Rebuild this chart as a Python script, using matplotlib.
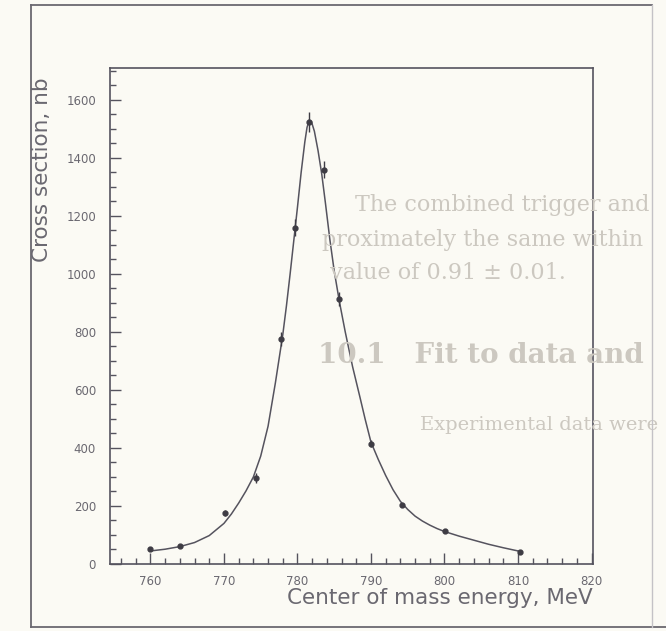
import numpy as np
import matplotlib
matplotlib.use('Agg')
import matplotlib.pyplot as plt
from matplotlib.lines import Line2D
from matplotlib.ticker import MultipleLocator

# measured points (MeV, nb)
energy = [760.0, 764.0, 770.2, 774.3, 777.8, 779.7, 781.6, 783.6, 785.7, 790.0, 794.2, 800.1, 810.3]
xsec = [52, 62, 176, 297, 776, 1160, 1525, 1360, 914, 414, 203, 114, 41]
xsec_err = [5, 5, 10, 18, 25, 30, 35, 30, 25, 12, 8, 6, 6]

# fitted curve
fit_e = [760, 762, 764, 766, 768, 770, 771, 772, 773, 774, 775, 776, 777, 778, 778.5,
         779, 779.5, 780, 780.5, 781, 781.3, 781.6, 781.9, 782.3, 782.8, 783.3, 783.8,
         784.4, 785, 785.7, 786.5, 787.5, 788.5, 789.2, 790, 791, 792, 793, 794, 795,
         796, 797, 798, 799, 800, 802, 804, 806, 808, 810]
fit_s = [45, 51, 60, 74, 98, 140, 172, 210, 252, 300, 372, 475, 625, 790, 890,
         1000, 1115, 1230, 1350, 1455, 1505, 1530, 1525, 1492, 1425, 1345, 1245,
         1120, 1010, 905, 800, 680, 575, 500, 420, 360, 305, 256, 216, 188,
         165, 148, 134, 122, 112, 96, 82, 68, 56, 45]

bg = '#fbfaf4'
ink = '#55535e'
ghost = '#ccc8c0'

fig = plt.figure(figsize=(6.66, 6.31), dpi=100, facecolor=bg)

# text showing through from the other side of the page
fig.text(355 / 666, 1 - 205 / 631, 'The combined trigger and', family='DejaVu Serif',
         fontsize=16, color=ghost, va='center', zorder=0)
fig.text(322 / 666, 1 - 240 / 631, 'proximately the same within', family='DejaVu Serif',
         fontsize=16, color=ghost, va='center', zorder=0)
fig.text(330 / 666, 1 - 273 / 631, 'value of 0.91 \u00b1 0.01.', family='DejaVu Serif',
         fontsize=16, color=ghost, va='center', zorder=0)
fig.text(318 / 666, 1 - 356 / 631, '10.1   Fit to data and', family='DejaVu Serif',
         fontsize=20, weight='bold', color=ghost, va='center', zorder=0)
fig.text(420 / 666, 1 - 425 / 631, 'Experimental data were', family='DejaVu Serif',
         fontsize=14, color=ghost, va='center', zorder=0)

# outer frame of the figure
fx0, fx1 = 31 / 666, 652 / 666
fy0, fy1 = 1 - 627 / 631, 1 - 5 / 631
for xs, ys in [([fx0, fx0], [fy0, fy1]), ([fx0, 1.0], [fy0, fy0]),
               ([fx0, fx1], [fy1, fy1])]:
    fig.add_artist(Line2D(xs, ys, color='#6a6870', lw=1.3))
fig.add_artist(Line2D([fx1, fx1], [fy0, fy1], color='#c4c2c6', lw=1.0))

ax = fig.add_axes([110 / 666, 1 - 564 / 631, 483 / 666, 496 / 631])
ax.set_facecolor('none')

ax.plot(fit_e, fit_s, color=ink, lw=1.1)
ax.errorbar(energy, xsec, yerr=xsec_err, fmt='o', ms=3.5, color='#3e3c44',
            ecolor='#3e3c44', elinewidth=1, capsize=0)

ax.set_xlim(754.5, 820.2)
ax.set_ylim(0, 1710)
ax.xaxis.set_major_locator(MultipleLocator(10))
ax.xaxis.set_minor_locator(MultipleLocator(2))
ax.yaxis.set_major_locator(MultipleLocator(200))
ax.yaxis.set_minor_locator(MultipleLocator(50))
ax.tick_params(which='both', direction='in', colors=ink, labelcolor='#6a6870',
               labelsize=8.5, width=1)
ax.tick_params(which='major', length=8)
ax.tick_params(which='minor', length=4)
ax.tick_params(axis='x', which='both', top=False, pad=8)
ax.tick_params(axis='y', which='both', right=False, pad=10)
for s in ax.spines.values():
    s.set_color(ink)
    s.set_linewidth(1.2)

ax.set_xlabel('Center of mass energy, MeV', fontsize=15.5, color='#6a6870', loc='right',
              labelpad=0)
ax.set_ylabel('Cross section, nb', fontsize=15.5, color='#6a6870')
ax.yaxis.set_label_coords(-0.12, 0.795)

fig.savefig('out.png', dpi=100, facecolor=bg)
